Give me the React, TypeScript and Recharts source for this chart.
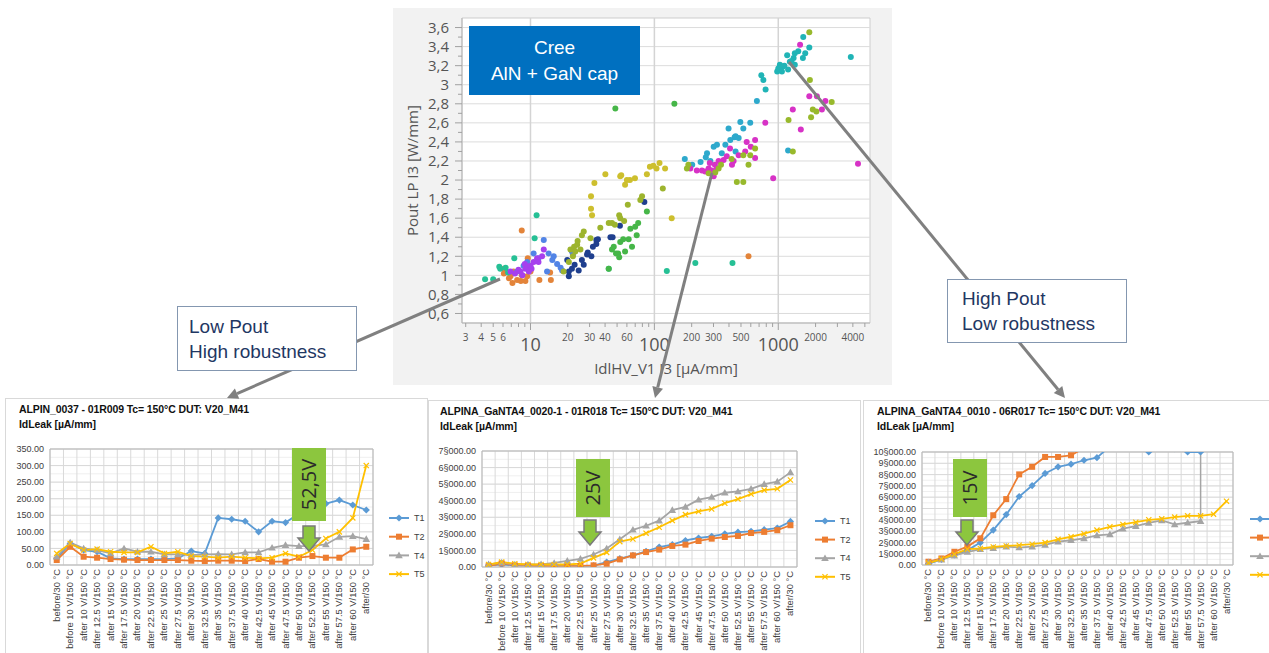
import {
  CartesianGrid,
  Label,
  Line,
  LineChart,
  ReferenceArea,
  ReferenceLine,
  Scatter,
  ScatterChart,
  XAxis,
  YAxis,
} from "recharts";

type Pair = [number, number];

// ---------- scatter: Pout vs leakage (log x) ----------
const orangePoints: Pair[] = [
  [8.5, 1.47], [9.5, 1.18], [6.1, 1.07], [6.1, 1.02], [6.7, 0.97], [7.15, 0.92], [8.35, 0.94],
  [11.8, 0.95], [14.6, 0.95], [14.4, 1.03], [8.5, 1.0], [7.3, 1.04], [7.8, 0.95], [9.4, 0.99],
  [10, 1.04], [575, 1.2], [6.9, 0.99], [9.1, 0.94],
];
const tealPoints: Pair[] = [
  [4.3, 0.96], [5.0, 0.96], [5.7, 1.07], [6.3, 1.08], [7.4, 1.18], [11.2, 1.63], [10.8, 1.39],
  [5.6, 1.09], [6.6, 1.03], [42.8, 1.07], [126, 1.045], [214, 1.13], [427, 1.13],
];
const bluePoints: Pair[] = [
  [12.8, 1.37], [10.6, 1.23], [11.6, 1.18], [14, 1.23], [15.4, 1.2], [16.4, 1.12], [13.6, 1.04],
  [7.8, 1.04], [9.4, 1.14], [21.6, 1.25], [15, 1.16], [8.8, 1.1], [17.5, 1.08], [22, 1.22], [18, 1.05],
];
const purplePoints: Pair[] = [
  [12.8, 1.27], [9.1, 1.07], [8.3, 1.04], [9.4, 1.09], [10, 1.1], [10.6, 1.14], [11.6, 1.14],
  [7.5, 1.02], [6.9, 1.04], [8.6, 1.0], [9.7, 1.04], [11.3, 1.18], [12.4, 1.2], [10.2, 1.07],
  [8, 1.06], [9, 1.12],
];
const navyPoints: Pair[] = [
  [19.8, 1.16], [20.4, 1.04], [20.4, 0.99], [21.6, 1.07], [24.5, 1.05], [26, 1.16], [28.6, 1.22],
  [31, 1.2], [31.9, 1.3], [34, 1.37], [35, 1.38], [44.2, 1.4], [46, 1.4], [52.7, 1.52], [83, 1.77],
  [22.7, 1.11], [26.9, 1.11], [29, 1.24], [34, 1.33],
];
const olivePoints: Pair[] = [
  [21, 1.27], [22.5, 1.3], [23, 1.25], [23.8, 1.32], [25.3, 1.27], [26.9, 1.46], [30.5, 1.39],
  [36.6, 1.5], [42.8, 1.55], [45.5, 1.55], [53, 1.6], [52, 1.63], [61, 1.74], [79.5, 1.83],
  [77, 1.79], [117, 1.91], [18.5, 1.04], [20.4, 1.14], [24, 1.36], [26, 1.42], [22, 1.2],
  [57, 1.57], [48, 1.53],
];
const mustardPoints: Pair[] = [
  [30.8, 1.7], [32.8, 1.97], [40.2, 2.06], [30.8, 1.83], [31.4, 1.63], [53, 2.04], [54, 2.05],
  [58, 1.95], [63.5, 2.0], [69.7, 2.02], [87, 2.06], [92, 2.14], [104, 2.12], [110, 2.18],
  [122, 2.12], [138, 1.6], [98, 2.15], [60, 2.0],
];
const greenPoints: Pair[] = [
  [45.5, 1.27], [47, 1.3], [49, 1.23], [51, 1.23], [53, 1.35], [56, 1.38], [62, 1.38], [66, 1.3],
  [64, 1.49], [70, 1.51], [74, 1.55], [72, 1.42], [87, 1.67], [48.4, 2.75], [145, 2.8],
  [42.8, 1.07], [58, 1.25], [52, 1.19],
];
const cyanPoints: Pair[] = [
  [176, 2.22], [397, 2.54], [444, 2.45], [494, 2.61], [522, 2.54], [594, 2.6], [374, 2.37],
  [479, 2.44], [452, 2.3], [301, 2.35], [266, 2.28], [236, 2.19], [202, 2.16], [283, 2.2],
  [452, 2.46], [320, 2.37], [672, 2.83], [1200, 2.31], [350, 2.28], [410, 2.42], [260, 2.24],
];
const magentaPoints: Pair[] = [
  [195, 2.12], [220, 2.1], [242, 2.1], [257, 2.09], [274, 2.12], [290, 2.1], [308, 2.16],
  [330, 2.2], [362, 2.21], [384, 2.25], [408, 2.33], [436, 2.2], [479, 2.26], [541, 2.3],
  [556, 2.4], [650, 2.42], [650, 2.23], [785, 2.6], [910, 2.02], [301, 2.04], [423, 2.16],
  [1310, 2.74], [1520, 2.53], [1780, 2.88], [2050, 2.88], [2250, 2.74], [2400, 2.83], [4400, 2.17],
  [1500, 3.42], [280, 2.18], [600, 2.35], [320, 2.12],
];
const limePoints: Pair[] = [
  [183, 2.12], [188, 2.16], [274, 2.07], [330, 2.12], [345, 2.16], [463, 1.98], [522, 1.98],
  [575, 2.16], [594, 2.26], [650, 2.33], [522, 2.26], [1310, 2.3], [1210, 2.63], [1800, 3.05],
  [1840, 2.66], [1900, 2.74], [2030, 2.72], [2700, 2.82], [1780, 3.55], [310, 2.08], [420, 2.22],
];
const turquoisePoints: Pair[] = [
  [980, 3.14], [1030, 3.21], [1090, 3.19], [1180, 3.31], [1240, 3.24], [1330, 3.28], [1360, 3.33],
  [1450, 3.35], [1580, 3.28], [1650, 3.33], [1590, 3.5], [1780, 3.39], [1360, 3.21], [1000, 3.17],
  [3850, 3.29], [1070, 3.14], [1200, 3.16], [1120, 3.2], [1280, 3.25], [758, 3.05], [730, 3.1],
  [790, 2.95],
];

const scatterGroups = [
  { name: "orange", color: "#e3843a", points: orangePoints },
  { name: "teal", color: "#26c095", points: tealPoints },
  { name: "blue", color: "#5284e6", points: bluePoints },
  { name: "purple", color: "#a640ee", points: purplePoints },
  { name: "navy", color: "#1f3f8e", points: navyPoints },
  { name: "olive", color: "#9db42e", points: olivePoints },
  { name: "mustard", color: "#cdbf2e", points: mustardPoints },
  { name: "green", color: "#46b648", points: greenPoints },
  { name: "cyan", color: "#2ea9cc", points: cyanPoints },
  { name: "magenta", color: "#d732c6", points: magentaPoints },
  { name: "lime", color: "#98b92c", points: limePoints },
  { name: "turquoise", color: "#20b4b6", points: turquoisePoints },
];

const xAllTicks = [
  3, 4, 5, 6, 7, 8, 9, 10, 20, 30, 40, 50, 60, 70, 80, 90, 100, 200, 300, 400, 500, 600, 700, 800,
  900, 1000, 2000, 3000, 4000, 5000,
];
const xLabelTicks = [3, 4, 5, 6, 10, 20, 30, 40, 60, 100, 200, 300, 500, 1000, 2000, 4000];
const xMajorTicks = [10, 100, 1000];
const yMajorTicks = [0.6, 0.8, 1, 1.2, 1.4, 1.6, 1.8, 2, 2.2, 2.4, 2.6, 2.8, 3, 3.2, 3.4, 3.6];
const yMinorTicks = [0.7, 0.9, 1.1, 1.3, 1.5, 1.7, 1.9, 2.1, 2.3, 2.5, 2.7, 2.9, 3.1, 3.3, 3.5];

// ---------- leakage step-stress charts ----------
const categories = [
  "before/30 °C", "before 10 V/150 °C", "after 10 V/150 °C", "after 12.5 V/150 °C",
  "after 15 V/150 °C", "after 17.5 V/150 °C", "after 20 V/150 °C", "after 22.5 V/150 °C",
  "after 25 V/150 °C", "after 27.5 V/150 °C", "after 30 V/150 °C", "after 32.5 V/150 °C",
  "after 35 V/150 °C", "after 37.5 V/150 °C", "after 40 V/150 °C", "after 42.5 V/150 °C",
  "after 45 V/150 °C", "after 47.5 V/150 °C", "after 50 V/150 °C", "after 52.5 V/150 °C",
  "after 55 V/150 °C", "after 57.5 V/150 °C", "after 60 V/150 °C", "after/30 °C",
];

const alpin0037T1 = [20, 65, 45, 40, 20, 18, 18, 18, 18, 20, 42, 35, 142, 138, 132, 100, 132, 128, 155, 175, 185, 196, 181, 166];
const alpin0037T2 = [15, 55, 25, 22, 18, 16, 15, 15, 15, 15, 13, 12, 13, 13, 12, 18, 10, 10, 22, 27, 22, 22, 47, 55];
const alpin0037T4 = [25, 68, 50, 45, 35, 50, 40, 40, 32, 32, 30, 32, 33, 32, 38, 38, 52, 60, 57, 58, 62, 85, 87, 78];
const alpin0037T5 = [35, 65, 45, 48, 40, 38, 38, 55, 35, 40, 27, 25, 22, 25, 22, 20, 22, 35, 25, 45, 80, 100, 142, 300];

const gan0020T1 = [100, 150, 100, 80, 50, 50, 50, 50, 80, 300, 500, 700, 950, 1200, 1350, 1600, 1750, 1850, 2000, 2100, 2150, 2250, 2350, 2750];
const gan0020T2 = [50, 220, 100, 80, 60, 40, 50, 60, 100, 200, 460, 700, 900, 1050, 1270, 1350, 1570, 1710, 1810, 1875, 2050, 2120, 2220, 2520];
const gan0020T4 = [160, 265, 150, 150, 160, 245, 370, 490, 755, 1120, 1670, 2245, 2490, 2800, 3430, 3630, 4060, 4220, 4480, 4560, 4720, 5000, 5150, 5710];
const gan0020T5 = [150, 300, 200, 150, 150, 150, 150, 200, 550, 880, 1530, 1690, 2040, 2400, 2800, 3160, 3350, 3500, 3850, 4100, 4400, 4640, 4720, 5250];

const gan0010T1 = [100, 500, 900, 1300, 1980, 3090, 4460, 6060, 7030, 8100, 8690, 8920, 9270, 9500, 10500, 10800, 10400, 10000, 10600, 10300, 10000, 10000, null, null];
const gan0010T2 = [290, 580, 1170, 1630, 2360, 4400, 5830, 8020, 8690, 9560, 9560, 9710, 10350, null, null, null, null, null, null, null, null, null, null, null];
const gan0010T4 = [230, 470, 820, 1150, 1400, 1490, 1630, 1545, 1630, 1780, 2070, 2190, 2360, 2620, 2710, 3210, 3440, 3730, 3940, 3590, 3740, 3880, null, null];
const gan0010T5 = [175, 525, 960, 1400, 1460, 1600, 1690, 1750, 1840, 1980, 2270, 2500, 2770, 3090, 3380, 3590, 3790, 4000, 4080, 4240, 4350, 4350, 4500, 5650];

const yTicks0037 = [0, 50, 100, 150, 200, 250, 300, 350];
const yTicks0020 = [0, 1000, 2000, 3000, 4000, 5000, 6000, 7000];
const yTicks0010 = [0, 1000, 2000, 3000, 4000, 5000, 6000, 7000, 8000, 9000, 10000];

const seriesStyles = [
  { key: "T1", color: "#5b9bd5", marker: "diamond" },
  { key: "T2", color: "#ed7d31", marker: "square" },
  { key: "T4", color: "#a5a5a5", marker: "triangle" },
  { key: "T5", color: "#ffc000", marker: "cross" },
];

const buildRows = (t1: (number | null)[], t2: (number | null)[], t4: (number | null)[], t5: (number | null)[]) =>
  categories.map((cat, i) => ({ cat, T1: t1[i], T2: t2[i], T4: t4[i], T5: t5[i] }));

const leakLabel = (v: number) => {
  const whole = Math.floor(v / 1000);
  const rest = (v % 1000).toFixed(2);
  return whole > 0 ? `${whole}§${rest.padStart(6, "0")}` : rest;
};

function Marker({ kind, cx, cy, color }: { kind: string; cx: number; cy: number; color: string }) {
  if (kind === "diamond")
    return <path d={`M${cx} ${cy - 3.6}L${cx + 3.6} ${cy}L${cx} ${cy + 3.6}L${cx - 3.6} ${cy}Z`} fill={color} />;
  if (kind === "square") return <rect x={cx - 3} y={cy - 3} width={6} height={6} fill={color} />;
  if (kind === "triangle")
    return <path d={`M${cx} ${cy - 3.8}L${cx + 3.8} ${cy + 2.8}L${cx - 3.8} ${cy + 2.8}Z`} fill={color} />;
  return (
    <path
      d={`M${cx - 2.6} ${cy - 2.6}L${cx + 2.6} ${cy + 2.6}M${cx + 2.6} ${cy - 2.6}L${cx - 2.6} ${cy + 2.6}`}
      stroke={color}
      strokeWidth={1.2}
    />
  );
}

const makeDot = (kind: string, color: string) => (p: any) => {
  if (p.cy == null || p.cx == null || p.value == null) return <g key={`e-${p.index}`} />;
  return (
    <g key={`d-${p.index}`}>
      <Marker kind={kind} cx={p.cx} cy={p.cy} color={color} />
    </g>
  );
};

function CategoryTick({ x, y, payload }: any) {
  return (
    <text
      x={x}
      y={y}
      transform={`rotate(-90 ${x} ${y})`}
      textAnchor="end"
      dy="0.32em"
      fontSize={9.4}
      fill="#404040"
    >
      {payload.value}
    </text>
  );
}

function SeriesLegend({ left, top, spacing, showText = true }: { left: number; top: number; spacing: number; showText?: boolean }) {
  return (
    <svg style={{ position: "absolute", left, top, overflow: "visible" }} width={40} height={spacing * 4}>
      {seriesStyles.map((s, i) => {
        const y = 4 + i * spacing;
        return (
          <g key={s.key}>
            <line x1={0} x2={20} y1={y} y2={y} stroke={s.color} strokeWidth={2} />
            <Marker kind={s.marker} cx={10} cy={y} color={s.color} />
            {showText && (
              <text x={25} y={y} dy="0.35em" fontSize={9} fill="#404040">
                {s.key}
              </text>
            )}
          </g>
        );
      })}
    </svg>
  );
}

type LeakChartProps = {
  title: string;
  rows: ReturnType<typeof buildRows>;
  yTicks: number[];
  left: number;
  top: number;
  width: number;
  height: number;
  boxWidth: number;
  marginTop: number;
  marginRight: number;
  yWidth: number;
  xHeight: number;
  titleLeft: number;
  children?: React.ReactNode;
};

function LeakChart(props: LeakChartProps) {
  const { title, rows, yTicks, left, top, width, height, boxWidth, marginTop, marginRight, yWidth, xHeight, titleLeft } = props;
  const yMax = yTicks[yTicks.length - 1];
  const steps = yTicks.length - 1;
  const n = categories.length;
  const halfBand = (width - yWidth - marginRight) / (2 * n);
  return (
    <>
      <div
        style={{
          position: "absolute",
          left,
          top,
          width: boxWidth,
          height: 300,
          border: "1px solid #d9d9d9",
          boxSizing: "border-box",
          background: "#fff",
        }}
      />
      <div style={{ position: "absolute", left: left + titleLeft, top: top + 4, fontSize: 10.5, fontWeight: 700, lineHeight: "15px", color: "#111", whiteSpace: "nowrap", letterSpacing: -0.1 }}>
        <div>{title}</div>
        <div>IdLeak [µA/mm]</div>
      </div>
      <div style={{ position: "absolute", left, top }}>
        <LineChart
          width={width}
          height={height}
          data={rows}
          margin={{ top: marginTop, right: marginRight, bottom: 0, left: 0 }}
        >
          <CartesianGrid
            stroke="#efefef"
            horizontalCoordinatesGenerator={({ offset }: any) =>
              Array.from({ length: steps * 2 + 1 }, (_, i) => offset.top + (i * offset.height) / (steps * 2))
            }
            vertical={false}
          />
          <CartesianGrid
            stroke="#d9d9d9"
            horizontalCoordinatesGenerator={({ offset }: any) =>
              Array.from({ length: steps + 1 }, (_, i) => offset.top + (i * offset.height) / steps)
            }
            verticalCoordinatesGenerator={({ offset }: any) =>
              Array.from({ length: n + 1 }, (_, i) => offset.left + (i * offset.width) / n)
            }
          />
          <CartesianGrid
            stroke="#b8b8b8"
            horizontalCoordinatesGenerator={({ offset }: any) => [offset.top]}
            verticalCoordinatesGenerator={({ offset }: any) => [offset.left + offset.width]}
          />
          <XAxis
            dataKey="cat"
            interval={0}
            height={xHeight}
            tick={<CategoryTick />}
            tickLine={false}
            tickSize={0}
            tickMargin={4}
            axisLine={{ stroke: "#b8b8b8" }}
            padding={{ left: halfBand, right: halfBand }}
          />
          <YAxis
            domain={[0, yMax]}
            ticks={yTicks}
            interval={0}
            allowDataOverflow
            width={yWidth}
            tickFormatter={leakLabel}
            tick={{ fontSize: 9, fill: "#404040" }}
            tickLine={false}
            tickSize={0}
            tickMargin={6}
            axisLine={{ stroke: "#b8b8b8" }}
          />
          {props.children}
          {seriesStyles.map((s) => (
            <Line
              key={s.key}
              dataKey={s.key}
              stroke={s.color}
              strokeWidth={1.8}
              dot={makeDot(s.marker, s.color)}
              activeDot={false}
              isAnimationActive={false}
              type="linear"
            />
          ))}
        </LineChart>
      </div>
    </>
  );
}

function VoltageFlag({ x, y, w, h, text, ax, ay }: { x: number; y: number; w: number; h: number; text: string; ax: number; ay: number }) {
  const cx = x + w / 2;
  const cy = y + h / 2;
  return (
    <svg style={{ position: "absolute", left: 0, top: 0, overflow: "visible" }} width={1} height={1}>
      <rect x={x} y={y} width={w} height={h} fill="#8cc63e" />
      <text
        x={cx}
        y={cy}
        transform={`rotate(-90 ${cx} ${cy})`}
        textAnchor="middle"
        dy="0.36em"
        fontSize={20}
        fill="#2b2b2b"
        fontFamily="'Open Sans', sans-serif"
      >
        {text}
      </text>
      <path
        d={`M${ax - 6} ${ay}L${ax + 6} ${ay}L${ax + 6} ${ay + 12}L${ax + 11} ${ay + 12}L${ax} ${ay + 25}L${ax - 11} ${ay + 12}L${ax - 6} ${ay + 12}Z`}
        fill="#8cc63e"
        stroke="#7a7a7a"
        strokeWidth={1.5}
      />
    </svg>
  );
}

function Arrow({ x1, y1, x2, y2 }: { x1: number; y1: number; x2: number; y2: number }) {
  const a = Math.atan2(y2 - y1, x2 - x1);
  const len = 11;
  const half = 5.5;
  const bx = x2 - len * Math.cos(a);
  const by = y2 - len * Math.sin(a);
  const px = -Math.sin(a) * half;
  const py = Math.cos(a) * half;
  return (
    <g>
      <line x1={x1} y1={y1} x2={bx} y2={by} stroke="#808080" strokeWidth={3} />
      <path d={`M${x2} ${y2}L${bx + px} ${by + py}L${bx - px} ${by - py}Z`} fill="#808080" />
    </g>
  );
}

function LogTick({ x, y, payload }: any) {
  const v = payload.value;
  const major = xMajorTicks.includes(v);
  const labeled = xLabelTicks.includes(v);
  return (
    <g>
      <line x1={x} x2={x} y1={y} y2={y + (major ? 7 : 4)} stroke="#a0a0a0" />
      {labeled && (
        <text x={x} y={y + (major ? 22 : 14)} dy="0.35em" textAnchor="middle" fontSize={major ? 18 : 10} fill="#555">
          {v}
        </text>
      )}
    </g>
  );
}

function PoutTick({ x, y, payload }: any) {
  const v = payload.value;
  const major = yMajorTicks.some((t) => Math.abs(t - v) < 1e-6);
  return (
    <g>
      <line x1={x - (major ? 7 : 4)} x2={x} y1={y} y2={y} stroke="#a0a0a0" />
      {major && (
        <text x={x - 13} y={y} dy="0.35em" textAnchor="end" fontSize={15} fill="#555">
          {v.toFixed(1).replace(/\.0$/, "").replace(".", ",")}
        </text>
      )}
    </g>
  );
}

export default function App() {
  const yAll = [...yMajorTicks, ...yMinorTicks].sort((a, b) => a - b);
  return (
    <div
      style={{
        position: "absolute",
        left: 0,
        top: 0,
        width: 1269,
        height: 653,
        overflow: "hidden",
        background: "#fff",
        fontFamily: "'Liberation Sans', Arial, sans-serif",
      }}
    >
      {/* scatter panel */}
      <div style={{ position: "absolute", left: 393, top: 8, width: 499, height: 377, background: "#f2f2f2" }} />
      <div style={{ position: "absolute", left: 393, top: 8, fontFamily: "'Open Sans', sans-serif" }}>
        <ScatterChart width={499} height={377} margin={{ top: 10, right: 22, bottom: 0, left: 0 }}>
          <CartesianGrid fill="#fff" horizontal={false} vertical={false} />
          {yMajorTicks.map((t) => (
            <ReferenceLine key={`h${t}`} y={t} stroke="#dcdcdc" ifOverflow="visible" />
          ))}
          {xMajorTicks.map((t) => (
            <ReferenceLine key={`v${t}`} x={t} stroke="#d4d4d4" strokeWidth={1.5} ifOverflow="visible" />
          ))}
          <ReferenceArea x1={2.8} x2={5500} y1={0.5} y2={3.7} fill="none" stroke="#cdcdcd" ifOverflow="visible" />
          <XAxis
            type="number"
            dataKey="x"
            scale="log"
            domain={[2.8, 5500]}
            allowDataOverflow
            ticks={xAllTicks}
            interval={0}
            tick={<LogTick />}
            tickLine={false}
            tickSize={0}
            tickMargin={0}
            height={62}
            axisLine={{ stroke: "#b5b5b5" }}
          >
            <Label value="IdlHV_V1 I3 [µA/mm]" position="insideBottom" offset={11} style={{ fontSize: 15, fill: "#555" }} />
          </XAxis>
          <YAxis
            type="number"
            dataKey="y"
            domain={[0.5, 3.7]}
            allowDataOverflow
            ticks={yAll}
            interval={0}
            tick={<PoutTick />}
            tickLine={false}
            tickSize={0}
            tickMargin={0}
            width={69}
            axisLine={{ stroke: "#b5b5b5" }}
          >
            <Label
              value="Pout LP I3 [W/mm]"
              angle={-90}
              position="insideLeft"
              offset={20}
              style={{ fontSize: 15, fill: "#555", textAnchor: "middle" }}
            />
          </YAxis>
          {scatterGroups.map((g) => (
            <Scatter
              key={g.name}
              data={g.points.map(([x, y]) => ({ x, y }))}
              fill={g.color}
              isAnimationActive={false}
              shape={(p: any) => <circle cx={p.cx} cy={p.cy} r={3} fill={g.color} />}
            />
          ))}
        </ScatterChart>
      </div>
      <div
        style={{
          position: "absolute",
          left: 469,
          top: 26,
          width: 171,
          height: 69,
          background: "#0070c0",
          color: "#fff",
          fontSize: 19,
          lineHeight: "26px",
          textAlign: "center",
          paddingTop: 9,
          boxSizing: "border-box",
        }}
      >
        <div>Cree</div>
        <div>AlN + GaN cap</div>
      </div>

      {/* leakage charts */}
      <LeakChart
        title="ALPIN_0037 - 01R009 Tc= 150°C DUT: V20_M41"
        rows={buildRows(alpin0037T1, alpin0037T2, alpin0037T4, alpin0037T5)}
        yTicks={yTicks0037}
        left={5}
        top={398}
        width={423}
        height={255}
        boxWidth={423}
        marginTop={51}
        marginRight={55}
        yWidth={45}
        xHeight={88}
        titleLeft={14}
      />
      <LeakChart
        title="ALPINA_GaNTA4_0020-1 - 01R018 Tc= 150°C DUT: V20_M41"
        rows={buildRows(gan0020T1, gan0020T2, gan0020T4, gan0020T5)}
        yTicks={yTicks0020}
        left={428}
        top={400}
        width={432}
        height={253}
        boxWidth={433}
        marginTop={51}
        marginRight={63}
        yWidth={54}
        xHeight={86}
        titleLeft={12}
      />
      <LeakChart
        title="ALPINA_GaNTA4_0010 - 06R017 Tc= 150°C DUT: V20_M41"
        rows={buildRows(gan0010T1, gan0010T2, gan0010T4, gan0010T5)}
        yTicks={yTicks0010}
        left={863}
        top={400}
        width={406}
        height={253}
        boxWidth={430}
        marginTop={52}
        marginRight={36}
        yWidth={59}
        xHeight={88}
        titleLeft={14}
      >
        <ReferenceLine
          segment={[
            { x: categories[21], y: gan0010T4[21] as number },
            { x: categories[21], y: yTicks0010[yTicks0010.length - 1] },
          ]}
          stroke="#a5a5a5"
          strokeWidth={1.5}
        />
      </LeakChart>
      <SeriesLegend left={389} top={514} spacing={18.7} />
      <SeriesLegend left={815} top={517} spacing={18.6} />
      <SeriesLegend left={1250} top={515} spacing={18.6} showText={false} />

      <VoltageFlag x={292} y={448} w={34} h={73} text="52,5V" ax={309} ay={526} />
      <VoltageFlag x={576} y={459} w={34} h={58} text="25V" ax={590} ay={520} />
      <VoltageFlag x={953} y={459} w={34} h={58} text="15V" ax={967} ay={520} />

      {/* connectors */}
      <svg style={{ position: "absolute", left: 0, top: 0 }} width={1269} height={653}>
        <Arrow x1={500} y1={279} x2={227} y2={398} />
        <Arrow x1={712} y1={173} x2={655} y2={398} />
        <Arrow x1={789} y1={62} x2={1065} y2={398} />
      </svg>
      <div
        style={{
          position: "absolute",
          left: 177,
          top: 306,
          width: 180,
          height: 65,
          background: "#fff",
          border: "1px solid #8497b0",
          boxSizing: "border-box",
          color: "#1f3763",
          fontSize: 19,
          lineHeight: "25px",
          padding: "7px 0 0 11px",
        }}
      >
        <div>Low Pout</div>
        <div>High robustness</div>
      </div>
      <div
        style={{
          position: "absolute",
          left: 947,
          top: 279,
          width: 180,
          height: 64,
          background: "#fff",
          border: "1px solid #8497b0",
          boxSizing: "border-box",
          color: "#1f3763",
          fontSize: 19,
          lineHeight: "25px",
          padding: "6px 0 0 14px",
        }}
      >
        <div>High Pout</div>
        <div>Low robustness</div>
      </div>
    </div>
  );
}
